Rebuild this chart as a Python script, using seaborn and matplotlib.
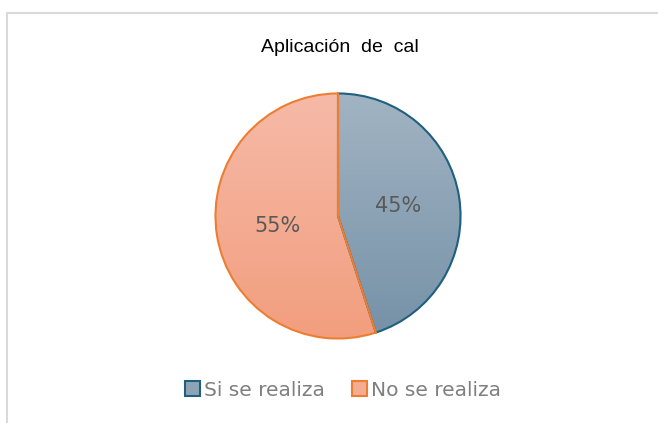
import numpy as np
import seaborn as sns
import matplotlib.pyplot as plt
from matplotlib.colors import LinearSegmentedColormap
from matplotlib.patches import Patch
from matplotlib.lines import Line2D

# datos
categorias = ["Si se realiza", "No se realiza"]
porcentajes = [45, 55]
titulo = "Aplicación de cal"

# estilos
bordes = ["#1F5F7F", "#ED7D31"]
grad_top = ["#A2B4C3", "#F6BAA8"]
grad_bottom = ["#7591A7", "#F29E7E"]

sns.set_theme(style="white")
plt.rcParams["font.family"] = ["DejaVu Sans"]

W, H = 658, 423
fig = plt.figure(figsize=(W / 100, H / 100), dpi=100)

# marco del grafico (solo arriba e izquierda visibles)
fig.add_artist(Line2D([7 / W, 1], [1 - 13 / H, 1 - 13 / H], color="#D9D9D9", lw=1.5, transform=fig.transFigure))
fig.add_artist(Line2D([7 / W, 7 / W], [0, 1 - 13 / H], color="#D9D9D9", lw=1.5, transform=fig.transFigure))

cx, cy, r = 338, 216, 125
ax = fig.add_axes([(cx - r) / W, (H - cy - r) / H, 2 * r / W, 2 * r / H])

wedges, texts = ax.pie(porcentajes, startangle=90, counterclock=False, radius=1,
                       wedgeprops=dict(linewidth=1.5))
for w, ec in zip(wedges, bordes):
    w.set_edgecolor(ec)
    w.set_facecolor("none")

# relleno degradado para cada sector
grad = np.linspace(0, 1, 256).reshape(-1, 1)
for w, c1, c2 in zip(wedges, grad_top, grad_bottom):
    cmap = LinearSegmentedColormap.from_list("g", [c1, c2])
    im = ax.imshow(grad, cmap=cmap, extent=[-1, 1, -1, 1], origin="upper",
                   aspect="auto", zorder=0.5)
    im.set_clip_path(w)
    w.set_zorder(1)

# etiquetas de porcentaje
angulo = 90
for p in porcentajes:
    mid = np.deg2rad(angulo - p * 3.6 / 2)
    ax.text(0.5 * np.cos(mid), 0.5 * np.sin(mid), f"{p}%", ha="center", va="center",
            fontsize=15, color="#595959")
    angulo -= p * 3.6

ax.set_xlim(-1.02, 1.02)
ax.set_ylim(-1.02, 1.02)
ax.set_aspect("equal")
ax.axis("off")

fig.text(340 / W, 1 - 47 / H, titulo.replace(" ", "  "), ha="center", va="center", fontsize=14,
         color="black", family="Liberation Sans")

handles = [Patch(facecolor=c, edgecolor=e, linewidth=1.5) for c, e in zip(["#8EA4B6", "#F4AC93"], bordes)]
fig.legend(handles, categorias, loc="center", bbox_to_anchor=(343 / W, 1 - 390 / H), ncol=2,
           frameon=False, fontsize=14.5, labelcolor="#7F7F7F", handlelength=0.75,
           handleheight=0.75, handletextpad=0.2, columnspacing=1.3)

fig.savefig("out.png", dpi=100)
